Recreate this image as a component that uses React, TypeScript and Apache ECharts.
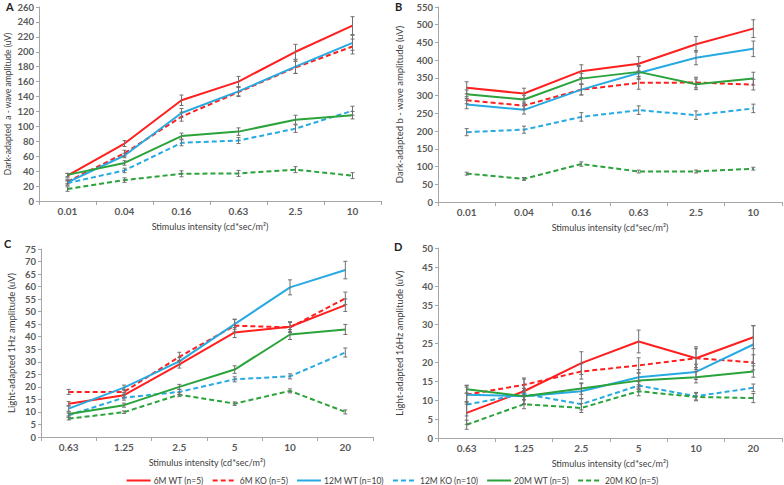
import React, { useEffect, useRef } from 'react';
import * as echarts from 'echarts';

// ---------- data ----------
const darkCats = ['0.01', '0.04', '0.16', '0.63', '2.5', '10'];
const lightCats = ['0.63', '1.25', '2.5', '5', '10', '20'];
const seriesNames = ['6M WT (n=5)', '6M KO (n=5)', '12M WT (n=10)', '12M KO (n=10)', '20M WT (n=5)', '20M KO (n=5)'];

// Panel A: dark-adapted a-wave (uV)
const aWT6 = [34, 77, 135, 160, 200, 235];
const aKO6 = [26, 64, 113, 146, 179, 207];
const aWT12 = [25, 61, 118, 147, 180, 212];
const aKO12 = [24, 41, 78, 81, 97, 121];
const aWT20 = [35, 51, 87, 93, 109, 115];
const aKO20 = [16, 28, 36.5, 37, 42, 34];
const aErrWT6 = [3, 4, 7, 7, 10, 12];
const aErrKO6 = [3, 4, 6, 6, 8, 10];
const aErrWT12 = [2, 3, 6, 6, 9, 10];
const aErrKO12 = [3, 3, 4, 4, 5, 6];
const aErrWT20 = [2, 3, 4, 5, 6, 5];
const aErrKO20 = [3, 3, 4, 4, 4, 4];

// Panel B: dark-adapted b-wave (uV)
const bWT6 = [322, 306, 369, 390, 445, 489];
const bKO6 = [287, 272, 317, 336, 337, 331];
const bWT12 = [275, 260, 317, 364, 407, 432];
const bKO12 = [197, 204, 240, 259, 245, 264];
const bWT20 = [304, 289, 348, 367, 332, 348];
const bKO20 = [80, 65, 107, 86, 86, 94];
const bErrWT6 = [17, 15, 18, 20, 22, 25];
const bErrKO6 = [10, 10, 15, 18, 15, 15];
const bErrWT12 = [12, 12, 15, 18, 20, 22];
const bErrKO12 = [10, 10, 12, 12, 12, 12];
const bErrWT20 = [12, 12, 15, 18, 15, 18];
const bErrKO20 = [4, 4, 6, 4, 4, 4];

// Panel C: light-adapted 1Hz (uV)
const cWT6 = [13.3, 16.7, 29, 41.7, 44, 52.6];
const cKO6 = [18, 18, 32, 44.4, 43.7, 55.3];
const cWT12 = [11.3, 19.7, 30.2, 45, 59.7, 66.6];
const cKO12 = [8.7, 15.7, 18, 23, 24.2, 33.7];
const cWT20 = [9.2, 12.7, 20, 26.9, 40.9, 42.9];
const cKO20 = [7.3, 9.9, 16.9, 13.3, 18.4, 10];
const cErrWT6 = [0.8, 1, 1.5, 2, 2, 2.5];
const cErrKO6 = [1, 1, 1.8, 2.5, 2, 2.5];
const cErrWT12 = [1, 1, 1.5, 2, 3, 3.5];
const cErrKO12 = [0.8, 1, 1, 1, 1, 1.8];
const cErrWT20 = [0.8, 0.8, 1, 1.5, 2, 2];
const cErrKO20 = [0.5, 0.5, 0.8, 0.7, 0.8, 0.8];

// Panel D: light-adapted 16Hz (uV)
const dWT6 = [6.6, 12.3, 19.7, 25.4, 21, 26.5];
const dKO6 = [11.4, 14, 17.5, 19.1, 21, 19.9];
const dWT12 = [11.4, 11, 12.3, 16, 17.4, 24.6];
const dKO12 = [8.8, 11.6, 8.9, 13.8, 11, 13.2];
const dWT20 = [12.8, 11, 13, 15.1, 16, 17.5];
const dKO20 = [3.5, 8.9, 7.9, 12.3, 10.8, 10.5];
const dErrWT6 = [3, 3.5, 3, 3, 3, 3];
const dErrKO6 = [2.5, 1.5, 2, 2, 2.5, 2];
const dErrWT12 = [2, 2, 2, 2, 2, 5];
const dErrKO12 = [3, 1.5, 1.5, 1, 1, 1];
const dErrWT20 = [1, 1, 1.5, 2, 1.5, 1.5];
const dErrKO20 = [1.2, 1.2, 1.2, 1.2, 1, 1.2];

const xAxisName = 'Stimulus intensity (cd*sec/m²)';
const yNames = [
  'Dark-adapted  a - wave amplitude (uV)',
  'Dark-adapted b - wave amplitude (uV)',
  'Light-adapted 1Hz amplitude (uV)',
  'Light-adapted 16Hz amplitude (uV)',
];
const panelLetters = ['A', 'B', 'C', 'D'];

// ---------- styles ----------
const RED = '#ff1f1f';
const BLUE = '#27aae1';
const GREEN = '#2aa33a';
const colors = [RED, RED, BLUE, BLUE, GREEN, GREEN];
const dashed = [false, true, false, true, false, true];
const FONT = 'Lato, "Liberation Sans", sans-serif';
const TXT = '#595959';

const panels = [
  { cats: darkCats, means: [aWT6, aKO6, aWT12, aKO12, aWT20, aKO20], errs: [aErrWT6, aErrKO6, aErrWT12, aErrKO12, aErrWT20, aErrKO20], max: 260, interval: 20,
    grid: { left: 39, right: 403, top: 7, bottom: 284 }, nameGap: 27, nameSize: 8.5 },
  { cats: darkCats, means: [bWT6, bKO6, bWT12, bKO12, bWT20, bKO20], errs: [bErrWT6, bErrKO6, bErrWT12, bErrKO12, bErrWT20, bErrKO20], max: 550, interval: 50,
    grid: { left: 438, right: 2, top: 7, bottom: 283 }, nameGap: 34, nameSize: 9.5 },
  { cats: lightCats, means: [cWT6, cKO6, cWT12, cKO12, cWT20, cKO20], errs: [cErrWT6, cErrKO6, cErrWT12, cErrKO12, cErrWT20, cErrKO20], max: 75, interval: 5,
    grid: { left: 41, right: 411, top: 249, bottom: 48 }, nameGap: 25, nameSize: 9.5 },
  { cats: lightCats, means: [dWT6, dKO6, dWT12, dKO12, dWT20, dKO20], errs: [dErrWT6, dErrKO6, dErrWT12, dErrKO12, dErrWT20, dErrKO20], max: 50, interval: 5,
    grid: { left: 438, right: 2, top: 248, bottom: 47 }, nameGap: 34, nameSize: 9.5 },
];

const letterPos = [
  { left: 6, top: 1 },
  { left: 395, top: 1 },
  { left: 4, top: 238 },
  { left: 394, top: 241 },
];

function errorRender(params: any, api: any) {
  const x = api.value(0);
  const y = api.value(1);
  const e = api.value(2);
  const top = api.coord([x, y + e]);
  const bot = api.coord([x, y - e]);
  const hw = 2;
  const st = { stroke: '#707070', lineWidth: 1 };
  return {
    type: 'group',
    children: [
      { type: 'line', shape: { x1: top[0], y1: top[1], x2: bot[0], y2: bot[1] }, style: st },
      { type: 'line', shape: { x1: top[0] - hw, y1: top[1], x2: top[0] + hw, y2: top[1] }, style: st },
      { type: 'line', shape: { x1: bot[0] - hw, y1: bot[1], x2: bot[0] + hw, y2: bot[1] }, style: st },
    ],
  };
}

export default function App() {
  const ref = useRef<HTMLDivElement>(null);
  useEffect(() => {
    if (!ref.current) return;
    const chart = echarts.init(ref.current, undefined, { renderer: 'svg' });
    const grids: any[] = [];
    const xAxes: any[] = [];
    const yAxes: any[] = [];
    const series: any[] = [];
    panels.forEach((p, pi) => {
      grids.push({ ...p.grid, containLabel: false });
      xAxes.push({
        type: 'category',
        gridIndex: pi,
        data: p.cats,
        boundaryGap: true,
        name: xAxisName,
        nameLocation: 'middle',
        nameGap: 21,
        nameTextStyle: { color: '#404040', fontSize: 9, fontFamily: FONT },
        axisLine: { lineStyle: { color: '#a6a6a6', width: 1 } },
        axisTick: { show: true, length: 4, inside: false, lineStyle: { color: '#a6a6a6' } },
        axisLabel: { color: TXT, fontSize: 10, fontWeight: 'bold', fontFamily: FONT, margin: 5 },
        splitLine: { show: false },
      });
      yAxes.push({
        type: 'value',
        gridIndex: pi,
        min: 0,
        max: p.max,
        interval: p.interval,
        name: yNames[pi],
        nameLocation: 'middle',
        nameGap: p.nameGap,
        nameTextStyle: { color: '#404040', fontSize: p.nameSize, fontFamily: FONT },
        axisLine: { show: true, lineStyle: { color: '#a6a6a6', width: 1 } },
        axisTick: { show: true, length: 3, lineStyle: { color: '#a6a6a6' } },
        axisLabel: { color: TXT, fontSize: 9.5, fontWeight: 'bold', fontFamily: FONT, margin: 5 },
        splitLine: { show: false },
      });
      p.means.forEach((m, si) => {
        series.push({
          type: 'line',
          name: seriesNames[si],
          xAxisIndex: pi,
          yAxisIndex: pi,
          data: m,
          symbol: 'none',
          showSymbol: false,
          lineStyle: { color: colors[si], width: 2, type: dashed[si] ? [5, 3] : 'solid' },
          itemStyle: { color: colors[si] },
          z: 2,
        });
      });
      p.means.forEach((m, si) => {
        series.push({
          type: 'custom',
          name: 'err' + pi + '_' + si,
          xAxisIndex: pi,
          yAxisIndex: pi,
          renderItem: errorRender,
          data: m.map((v, i) => [i, v, p.errs[si][i]]),
          encode: { x: 0, y: 1 },
          z: 3,
          silent: true,
        });
      });
    });

    const option: any = {
      animation: false,
      backgroundColor: '#ffffff',
      textStyle: { fontFamily: FONT },
      grid: grids,
      xAxis: xAxes,
      yAxis: yAxes,
      series,
      legend: {
        data: seriesNames,
        top: 471,
        left: 'center',
        itemWidth: 24,
        itemHeight: 8,
        itemGap: 8,
        itemStyle: { opacity: 0 },
        textStyle: { color: '#404040', fontSize: 8.5, fontFamily: FONT, padding: [0, 0, 0, -2] },
      },
      graphic: panelLetters.map((l, i) => ({
        type: 'text',
        left: letterPos[i].left,
        top: letterPos[i].top,
        style: { text: l, font: 'bold 11px ' + FONT, fill: '#222' },
      })),
    };
    chart.setOption(option);
    return () => chart.dispose();
  }, []);
  return <div ref={ref} style={{ width: 784, height: 485, position: 'absolute', left: 0, top: 0 }} />;
}
